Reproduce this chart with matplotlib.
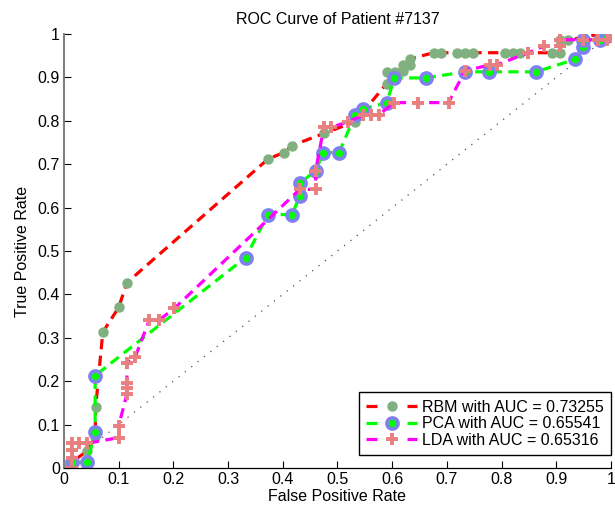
import numpy as np
import matplotlib
matplotlib.use('Agg')
import matplotlib.pyplot as plt
from matplotlib.lines import Line2D
from matplotlib.legend_handler import HandlerBase

plt.rcParams['font.family'] = ['Liberation Sans', 'DejaVu Sans']
plt.rcParams['font.size'] = 11.5

# ROC points (false positive rate, true positive rate)
rbm_fpr = [0, 0.043, 0.057, 0.058, 0.071, 0.1, 0.115, 0.373, 0.402, 0.417, 0.475,
           0.532, 0.59, 0.59, 0.605, 0.619, 0.619, 0.633, 0.633, 0.676, 0.69,
           0.719, 0.733, 0.747, 0.806, 0.82, 0.834, 0.892, 0.907, 0.907, 0.921,
           0.98, 0.993, 1.0]
rbm_tpr = [0, 0.04, 0.071, 0.141, 0.313, 0.37, 0.427, 0.712, 0.727, 0.743, 0.771,
           0.798, 0.886, 0.913, 0.913, 0.914, 0.929, 0.929, 0.943, 0.957, 0.957,
           0.957, 0.957, 0.957, 0.957, 0.957, 0.957, 0.957, 0.957, 0.986, 0.986,
           1.0, 1.0, 1.0]

pca_fpr = [0, 0.014, 0.043, 0.057, 0.057, 0.332, 0.373, 0.417, 0.431, 0.431, 0.46,
           0.474, 0.503, 0.532, 0.546, 0.59, 0.604, 0.662, 0.733, 0.777, 0.863,
           0.935, 0.949, 0.949, 0.979, 0.992, 1.0]
pca_tpr = [0, 0.013, 0.013, 0.084, 0.213, 0.485, 0.584, 0.584, 0.627, 0.656, 0.685,
           0.727, 0.727, 0.813, 0.827, 0.842, 0.899, 0.899, 0.913, 0.913, 0.913,
           0.942, 0.971, 0.986, 0.986, 0.995, 1.0]

lda_fpr = [0, 0.014, 0.014, 0.014, 0.014, 0.027, 0.043, 0.1, 0.1, 0.115, 0.115,
           0.115, 0.115, 0.13, 0.156, 0.174, 0.202, 0.431, 0.46, 0.46, 0.475,
           0.489, 0.519, 0.547, 0.561, 0.575, 0.603, 0.648, 0.703, 0.733, 0.778,
           0.791, 0.849, 0.877, 0.907, 0.907, 0.949, 0.977, 0.992, 1.0]
lda_tpr = [0, 0, 0.022, 0.041, 0.057, 0.057, 0.057, 0.07, 0.097, 0.17, 0.184,
           0.197, 0.241, 0.255, 0.341, 0.341, 0.368, 0.642, 0.642, 0.685, 0.785,
           0.785, 0.798, 0.813, 0.813, 0.813, 0.842, 0.842, 0.842, 0.915, 0.929,
           0.929, 0.957, 0.972, 0.972, 0.987, 0.987, 0.987, 0.987, 1.0]

auc_rbm = 0.73255
auc_pca = 0.65541
auc_lda = 0.65316

ticks = [0, 0.1, 0.2, 0.3, 0.4, 0.5, 0.6, 0.7, 0.8, 0.9, 1]
tick_labels = ['0', '0.1', '0.2', '0.3', '0.4', '0.5', '0.6', '0.7', '0.8', '0.9', '1']


class DashMarkHandler(HandlerBase):
    # legend key drawn as: short dash, marker, short dash
    def create_artists(self, legend, orig, xd, yd, w, h, fs, trans):
        y = (h - yd) / 2
        seg = 0.21 * w
        x0 = -xd
        artists = []
        for a, b in [(x0, x0 + seg), (x0 + w - seg, x0 + w)]:
            ln = Line2D([a, b], [y, y], color=orig.get_color(),
                        linewidth=orig.get_linewidth(), solid_capstyle='butt')
            artists.append(ln)
        mk = Line2D([x0 + w / 2], [y], linestyle='none', marker=orig.get_marker(),
                    markersize=orig.get_markersize(),
                    markerfacecolor=orig.get_markerfacecolor(),
                    markeredgecolor=orig.get_markeredgecolor(),
                    markeredgewidth=orig.get_markeredgewidth())
        artists.append(mk)
        for a in artists:
            a.set_transform(trans)
        return artists


fig = plt.figure(figsize=(6.15, 5.16), dpi=100)
ax = fig.add_axes([0.104, 0.093, 0.8895, 0.841])

lw = 2.3
dash = (3.2, 2.0)
# styles per method: line colour, marker kwargs
rbm_style = dict(color='#ff0000', marker='o', markersize=6.5,
                 markerfacecolor='#80b080', markeredgecolor='#80b080')
pca_style = dict(color='#00ff00', marker='o', markersize=8, markerfacecolor='#00ff00',
                 markeredgecolor='#8080f0', markeredgewidth=2.6)
lda_style = dict(color='#ff00ff', marker='+', markersize=8,
                 markeredgecolor='#e88080', markeredgewidth=2.8)

# chance diagonal
ax.plot([0, 1], [0, 1], color='#505050', linewidth=0.9, dashes=(1, 5.5))

l_rbm, = ax.plot(rbm_fpr, rbm_tpr, linewidth=lw, dashes=dash, **rbm_style)
l_pca, = ax.plot(pca_fpr, pca_tpr, linewidth=lw, dashes=dash, **pca_style)
l_lda, = ax.plot(lda_fpr, lda_tpr, linewidth=lw, dashes=dash, **lda_style)

ax.set_xlim(0, 1)
ax.set_ylim(0, 1)
ax.set_xticks(ticks)
ax.set_xticklabels(tick_labels)
ax.set_yticks(ticks)
ax.set_yticklabels(tick_labels)
ax.tick_params(direction='in', length=5, width=0.8, pad=3)
ax.spines['top'].set_visible(False)
ax.spines['right'].set_visible(False)
ax.spines['left'].set_color('#808080')
ax.spines['left'].set_linewidth(1.5)
ax.spines['bottom'].set_linewidth(0.9)

ax.set_title('ROC Curve of Patient #7137', fontsize=11.5, pad=7)
ax.set_xlabel('False Positive Rate', labelpad=1)
ax.set_ylabel('True Positive Rate', labelpad=5)

labels = ['RBM with AUC = %.5f' % auc_rbm,
          'PCA with AUC = %.5f' % auc_pca,
          'LDA with AUC = %.5f' % auc_lda]
leg = ax.legend([l_rbm, l_pca, l_lda], labels, loc='lower right',
                bbox_to_anchor=(1.0, 0.03), borderaxespad=0, fancybox=False,
                framealpha=1, edgecolor='black', handlelength=3.2, borderpad=0.45,
                labelspacing=0.1, handletextpad=0.3,
                handler_map={Line2D: DashMarkHandler()})
leg.get_frame().set_linewidth(1.0)

fig.savefig('out.png', dpi=100)
